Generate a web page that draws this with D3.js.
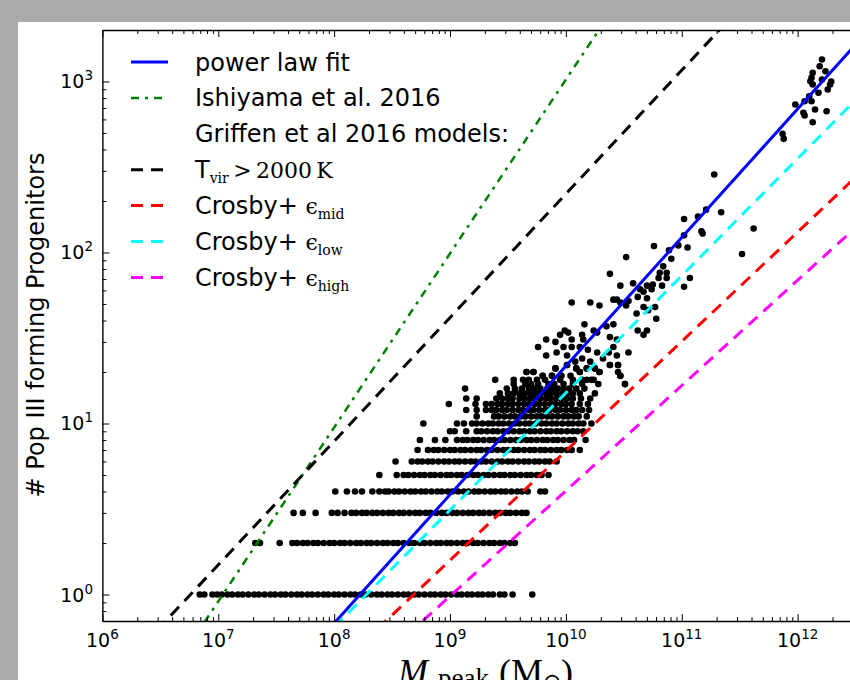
<!DOCTYPE html>
<html>
<head>
<meta charset="utf-8">
<script src="https://cdn.jsdelivr.net/npm/d3@7"></script>
<style>
  body { margin: 0; background: #aaaaaa; }
</style>
</head>
<body>
<svg id="chart"></svg>
<script>
// ---- data ----
const xMajor = [1e6, 1e7, 1e8, 1e9, 1e10, 1e11, 1e12, 1e13];
const xExp = ["6", "7", "8", "9", "10", "11", "12", "13"];
const yMajor = [1, 10, 100, 1000];
const yExp = ["0", "1", "2", "3"];

// integer progenitor counts: log10(Mpeak) of every halo in that row
const rowN = [1, 2, 3, 4, 5, 6, 7, 8, 9, 10, 11, 12, 13, 14, 15, 16, 17, 18, 19, 20, 21, 22];
const rowLogM = [
  [6.84,6.88,6.95,6.99,7.03,7.08,7.12,7.17,7.21,7.26,7.31,7.35,7.40,7.45,7.49,7.54,7.58,7.63,7.68,7.72,7.77,7.81,7.86,7.91,7.95,8.00,8.04,8.09,8.14,8.18,8.23,8.27,8.32,8.37,8.41,8.46,8.50,8.55,8.60,8.64,8.69,8.73,8.78,8.83,8.87,8.92,8.96,9.01,9.06,9.10,9.15,9.19,9.24,9.28,9.33,9.37,9.43,9.47,9.54,9.71],
  [7.32,7.36,7.53,7.64,7.68,7.73,7.77,7.82,7.86,7.91,7.96,8.00,8.05,8.09,8.14,8.19,8.23,8.28,8.32,8.37,8.42,8.46,8.51,8.55,8.60,8.65,8.69,8.74,8.78,8.83,8.88,8.92,8.97,9.01,9.06,9.11,9.15,9.20,9.24,9.29,9.34,9.38,9.43,9.47,9.52,9.56],
  [7.65,7.73,7.84,7.98,8.03,8.09,8.15,8.19,8.24,8.28,8.33,8.37,8.42,8.47,8.51,8.56,8.60,8.65,8.70,8.74,8.79,8.83,8.88,8.93,8.97,9.02,9.06,9.11,9.16,9.20,9.25,9.29,9.34,9.39,9.43,9.48,9.52,9.57,9.62,9.66],
  [8.01,8.11,8.18,8.24,8.33,8.39,8.44,8.47,8.52,8.56,8.61,8.66,8.70,8.75,8.79,8.84,8.89,8.93,8.98,9.02,9.07,9.12,9.16,9.21,9.25,9.30,9.35,9.39,9.44,9.48,9.53,9.58,9.62,9.67,9.78,9.82],
  [8.39,8.54,8.60,8.64,8.69,8.74,8.78,8.83,8.87,8.92,8.97,9.01,9.06,9.10,9.15,9.20,9.24,9.29,9.33,9.38,9.43,9.47,9.52,9.56,9.61,9.66,9.70,9.75,9.79,9.85],
  [8.53,8.67,8.72,8.76,8.81,8.85,8.90,8.95,8.99,9.04,9.08,9.13,9.18,9.22,9.27,9.31,9.36,9.41,9.45,9.50,9.54,9.59,9.64,9.68,9.73,9.77,9.82,9.86,9.92],
  [8.72,8.81,8.86,8.90,8.95,9.00,9.04,9.09,9.13,9.18,9.23,9.27,9.32,9.36,9.41,9.46,9.50,9.55,9.59,9.64,9.69,9.73,9.78,9.82,9.87,9.92,9.96,10.01,10.05,10.12],
  [8.74,8.87,8.96,9.06,9.11,9.15,9.20,9.24,9.29,9.34,9.38,9.43,9.47,9.52,9.57,9.61,9.66,9.70,9.75,9.80,9.84,9.89,9.93,9.98,10.03,10.07,10.17],
  [9.00,9.04,9.14,9.23,9.27,9.32,9.37,9.41,9.46,9.50,9.55,9.60,9.64,9.69,9.73,9.78,9.83,9.87,9.92,9.96,10.01,10.06,10.10,10.15],
  [8.77,9.06,9.12,9.19,9.23,9.28,9.33,9.37,9.42,9.46,9.51,9.56,9.60,9.65,9.69,9.74,9.79,9.83,9.88,9.92,9.97,10.02,10.06,10.11,10.15,10.22],
  [9.23,9.38,9.42,9.47,9.52,9.56,9.61,9.65,9.70,9.75,9.79,9.84,9.88,9.93,9.98,10.02,10.07,10.11,10.18],
  [9.14,9.23,9.31,9.36,9.40,9.45,9.49,9.54,9.59,9.63,9.68,9.72,9.77,9.82,9.86,9.91,9.95,10.00,10.05,10.09,10.14,10.20],
  [8.99,9.22,9.31,9.36,9.41,9.45,9.50,9.54,9.59,9.64,9.68,9.73,9.77,9.82,9.87,9.91,9.96,10.00,10.05,10.12,10.19],
  [9.14,9.23,9.40,9.45,9.50,9.54,9.60,9.64,9.69,9.73,9.78,9.83,9.87,9.92,9.96,10.01,10.06,10.13,10.21],
  [9.43,9.50,9.55,9.60,9.64,9.69,9.74,9.78,9.83,9.87,9.92,9.97,10.01,10.06,10.12,10.25],
  [9.13,9.49,9.56,9.62,9.68,9.73,9.78,9.84,9.88,9.93,9.98,10.03,10.09,10.16],
  [9.55,9.65,9.70,9.76,9.85,9.90,9.98,10.06,10.14,10.28,10.51],
  [9.39,9.55,9.63,9.68,9.75,9.82,9.95,10.06,10.14,10.18,10.22,10.24],
  [9.80,9.88,9.96,10.04,10.47],
  [9.66,9.72,10.12,10.29,10.45],
  [9.91,10.09,10.18,10.25],
  [10.01,10.38,10.45]
];

// sparse upper cloud: [log10(Mpeak), N]
const cloud = [
  [10.16,38],[10.24,35],[9.99,35],[10.02,34],[10.14,33],[9.83,31],[9.91,30],[9.95,33],[10.05,31],[10.15,31],
  [10.27,34],[9.76,28],[9.98,28],[10.05,28],[10.12,28],[10.19,27],[10.27,26],[9.83,25],[9.92,26],[10.01,25],
  [10.14,24],[10.21,23],[10.08,23],[9.91,21],[10.01,22],[10.09,21],[10.18,21],[10.25,21],[9.66,20],[9.72,20],
  [9.80,19],[9.88,19],[9.96,19],[10.12,20],
  [10.77,48],[10.78,41],[10.71,46],[10.62,35],[10.67,33],[10.70,35],[10.54,26],[10.45,22],[10.47,19],[10.51,17],
  [10.61,44],[10.41,38],[10.35,37],[10.38,32],[10.44,31],[10.41,28],[10.37,26],[10.44,25],[10.32,24],[10.38,22],
  [10.29,20],[10.41,53],
  [10.05,51],[10.21,51],[10.29,49],[10.47,51],[10.52,49],[10.67,48],[10.44,53],[10.54,52],[10.62,55],[10.70,54],
  [10.64,61],[10.67,59],[10.74,61],[10.47,64],[10.58,66],[10.70,64],[10.75,65],[10.83,64],[11.02,63],[10.38,75],
  [10.84,83],[10.87,76],[10.81,76],[10.87,71],[10.80,71],[11.07,71],[10.52,94],[10.91,92],[10.76,109],[10.89,103],
  [10.97,110],[11.05,107],[11.02,126],[11.17,133],[11.18,129],[11.02,157],[11.14,162],[11.21,178],[11.34,172],
  [11.28,286],[11.52,98],[11.62,138],
  [12.21,1345],[12.19,1228],[12.24,1148],[12.13,1125],[12.12,1052],[12.21,1027],[12.11,1004],[12.13,960],
  [12.28,960],[12.26,898],[12.18,859],[12.06,767],[12.12,767],[11.98,733],[12.05,656],[12.06,633],[12.15,686],
  [12.25,670],[12.13,578],[11.87,494],[11.88,462],[12.29,1000],[12.10,820]
];

// model lines, each given by two end points [Mpeak, N]
const lineKeys = ["fit", "ishiyama", "tvir", "mid", "low", "high"];
const lineEnds = [
  [[1e8, 0.679], [1e13, 3908]],
  [[1e6, 0.0877], [1e11, 10670]],
  [[1e6, 0.282], [1e12, 6150]],
  [[1e8, 0.363], [1e13, 575]],
  [[1e8, 0.644], [1e13, 1714]],
  [[1e8, 0.237], [1e13, 284]]
];

// ---- styles ----
const lineStyle = {
  fit:      { color: "#0000ff", dash: null,       width: 3 },
  ishiyama: { color: "#008000", dash: "8,6,3,6",  width: 2.5 },
  tvir:     { color: "#000000", dash: "12,8",     width: 3 },
  mid:      { color: "#ff0000", dash: "12,8",     width: 3 },
  low:      { color: "#00ffff", dash: "12,8",     width: 3 },
  high:     { color: "#ff00ff", dash: "12,8",     width: 3 }
};

const W = 850, H = 680;
const svg = d3.select("#chart").attr("width", W).attr("height", H);

svg.append("rect").attr("width", W).attr("height", H).attr("fill", "#aaaaaa");
svg.append("rect").attr("x", 18).attr("y", 22).attr("width", W - 18).attr("height", H - 22).attr("fill", "#ffffff");

// the axes run past the right edge of the picture (the figure is cropped there)
const plot = { left: 102.4, right: 913.5, top: 30, bottom: 621 };

let x = d3.scaleLog().domain([1e6, 1e13]).range([plot.left, plot.right]);
let y = d3.scaleLog().domain([0.7, 2000]).range([plot.bottom, plot.top]);

svg.append("clipPath").attr("id", "clip")
  .append("rect")
  .attr("x", plot.left).attr("y", plot.top)
  .attr("width", plot.right - plot.left).attr("height", plot.bottom - plot.top);

const body = svg.append("g").attr("clip-path", "url(#clip)");

// scatter
let points = [];
rowN.forEach((n, i) => {
  rowLogM[i].forEach(lm => points.push([Math.pow(10, lm), n]));
});
cloud.forEach(d => points.push([Math.pow(10, d[0]), d[1]]));

body.append("g")
  .selectAll("circle")
  .data(points)
  .enter().append("circle")
    .attr("cx", d => x(d[0]))
    .attr("cy", d => y(d[1]))
    .attr("r", 3.3)
    .attr("fill", "#000");

// lines
const lineGen = d3.line().x(d => x(d[0])).y(d => y(d[1]));
body.append("g")
  .selectAll("path")
  .data(lineKeys)
  .enter().append("path")
    .attr("d", (k, i) => lineGen(lineEnds[i]))
    .attr("fill", "none")
    .attr("stroke", k => lineStyle[k].color)
    .attr("stroke-width", k => lineStyle[k].width)
    .attr("stroke-dasharray", k => lineStyle[k].dash);

// axes: ticks point inwards, on all four sides
const isPow10 = v => Math.abs(Math.log10(v) - Math.round(Math.log10(v))) < 1e-6;
const xMinor = x.ticks().filter(v => !isPow10(v));
const yMinor = y.ticks().filter(v => !isPow10(v));

function addAxis(axis, tr, size, keepDomain) {
  const g = svg.append("g")
    .attr("transform", tr)
    .call(axis.tickSizeInner(-size).tickSizeOuter(0).tickFormat(""));
  g.selectAll("text").remove();
  g.selectAll(".tick line").attr("stroke-width", 1);
  if (keepDomain) g.select(".domain").attr("stroke-width", 1.4);
  else g.select(".domain").remove();
}

addAxis(d3.axisBottom(x).tickValues(xMinor), "translate(0," + plot.bottom + ")", 4, false);
addAxis(d3.axisTop(x).tickValues(xMinor), "translate(0," + plot.top + ")", 4, false);
addAxis(d3.axisLeft(y).tickValues(yMinor), "translate(" + plot.left + ",0)", 4, false);
addAxis(d3.axisRight(y).tickValues(yMinor), "translate(" + plot.right + ",0)", 4, false);
addAxis(d3.axisBottom(x).tickValues(xMajor), "translate(0," + plot.bottom + ")", 7, true);
addAxis(d3.axisTop(x).tickValues(xMajor), "translate(0," + plot.top + ")", 7, true);
addAxis(d3.axisLeft(y).tickValues(yMajor), "translate(" + plot.left + ",0)", 7, true);
addAxis(d3.axisRight(y).tickValues(yMajor), "translate(" + plot.right + ",0)", 7, true);

// tick labels with superscripts (only those inside the picture)
const xShown = xMajor.filter(v => x(v) < W - 20);
const xl = svg.append("g").selectAll("text")
  .data(xShown)
  .enter().append("text")
    .attr("x", d => x(d))
    .attr("y", 647)
    .attr("text-anchor", "middle")
    .attr("font-family", "DejaVu Sans")
    .attr("font-size", 19);
xl.append("tspan").text("10");
xl.append("tspan").attr("dy", -8).attr("font-size", 13.5).text((d, i) => xExp[i]);

const yl = svg.append("g").selectAll("text")
  .data(yMajor)
  .enter().append("text")
    .attr("x", 93)
    .attr("y", d => y(d) + 7)
    .attr("text-anchor", "end")
    .attr("font-family", "DejaVu Sans")
    .attr("font-size", 19);
yl.append("tspan").text("10");
yl.append("tspan").attr("dy", -8).attr("font-size", 13.5).text((d, i) => yExp[i]);

// axis titles
svg.append("text")
  .attr("transform", "translate(44," + 325 + ") rotate(-90)")
  .attr("text-anchor", "middle")
  .attr("font-family", "DejaVu Sans")
  .attr("font-size", 24)
  .text("# Pop III forming Progenitors");

const xt = svg.append("text")
  .attr("y", 684)
  .attr("font-family", "Liberation Serif")
  .attr("font-size", 36);
xt.append("tspan").attr("x", 398).attr("font-style", "italic").text("M");
xt.append("tspan").attr("x", 438).attr("dy", 3).attr("font-size", 27).text("peak");
xt.append("tspan").attr("x", 499).attr("dy", -3).text("(M");
xt.append("tspan").attr("dy", 5).attr("font-size", 22).text("\u2299");
xt.append("tspan").attr("dy", -5).text(")");

// legend
const legendKeys = ["fit", "ishiyama", null, "tvir", "mid", "low", "high"];
const legY0 = 62, legDy = 35.9;
const legend = svg.append("g");

legendKeys.forEach((k, i) => {
  const yy = legY0 + i * legDy;
  if (k) {
    const s = lineStyle[k];
    legend.append("line")
      .attr("x1", 131).attr("x2", 168)
      .attr("y1", yy).attr("y2", yy)
      .attr("stroke", s.color)
      .attr("stroke-width", s.width)
      .attr("stroke-dasharray", s.dash);
  }
  const t = legend.append("text")
    .attr("x", 195).attr("y", yy + 8.5)
    .attr("font-family", "DejaVu Sans")
    .attr("font-size", 24);
  if (i === 0) t.text("power law fit");
  if (i === 1) t.text("Ishiyama et al. 2016");
  if (i === 2) t.text("Griffen et al 2016 models:");
  if (i === 3) {
    t.append("tspan").text("T");
    t.append("tspan").attr("font-family", "DejaVu Serif").attr("font-size", 14).attr("dy", 5).text("vir");
    t.append("tspan").attr("font-family", "DejaVu Serif").attr("font-size", 22).attr("dy", -5).text("\u2009>\u20092000\u2009K");
  }
  if (i >= 4) {
    const sub = ["mid", "low", "high"][i - 4];
    t.append("tspan").text("Crosby+ ");
    t.append("tspan").attr("font-family", "DejaVu Serif").attr("font-size", 22).text("\u03f5");
    t.append("tspan").attr("font-family", "DejaVu Serif").attr("font-size", 14).attr("dy", 5).text(sub);
  }
});
</script>
</body>
</html>
